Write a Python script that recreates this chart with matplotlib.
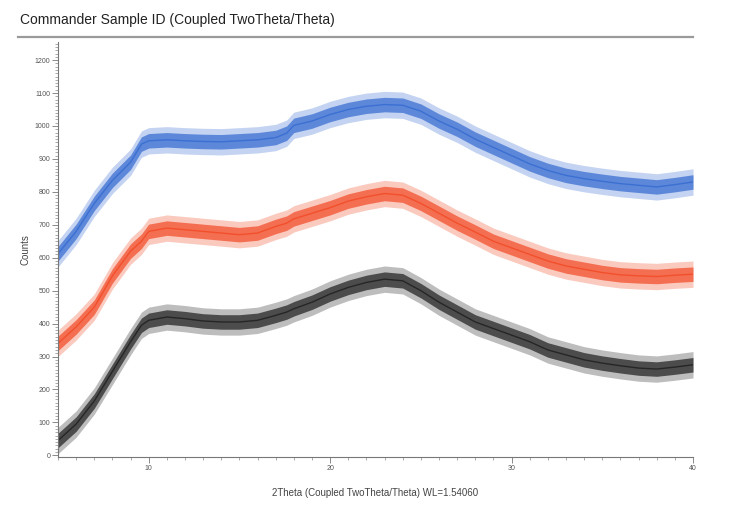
import numpy as np
import matplotlib.pyplot as plt
from matplotlib.lines import Line2D
from matplotlib.ticker import MultipleLocator

two_theta = [5, 6, 7, 8, 9, 9.6, 10, 11, 12, 13, 14, 15, 16, 17, 17.6, 18, 19, 20,
             21, 22, 23, 24, 25, 26, 27, 28, 29, 30, 31, 32, 33, 34, 35, 36, 37,
             38, 39, 40]

blue_counts = [612, 680, 765, 835, 890, 945, 955, 958, 955, 953, 952, 955, 958, 965,
               978, 1002, 1015, 1035, 1050, 1060, 1065, 1063, 1045, 1015, 990, 960,
               935, 910, 885, 865, 850, 840, 832, 825, 820, 815, 822, 830]
red_counts = [340, 390, 450, 545, 620, 650, 680, 690, 685, 680, 675, 670, 675, 695,
              705, 718, 735, 752, 772, 785, 795, 790, 765, 735, 705, 678, 650, 630,
              610, 590, 575, 565, 555, 548, 545, 543, 547, 550]
black_counts = [45, 95, 165, 255, 345, 395, 410, 420, 415, 408, 405, 405, 410, 425,
                435, 445, 465, 490, 510, 525, 535, 530, 500, 465, 435, 405, 385, 365,
                345, 320, 305, 290, 280, 272, 265, 262, 268, 275]

# rough half-width of the noise band seen on each scan (outer spikes / dense core)
noise_outer = {'blue': 40, 'red': 40, 'black': 40}
noise_core = {'blue': 22, 'red': 22, 'black': 22}

colors = {'blue': '#3b6fd2', 'red': '#f2502c', 'black': '#262626'}

plt.rcParams['font.family'] = ['Liberation Sans', 'DejaVu Sans']

fig = plt.figure(figsize=(7.3, 5.12), dpi=100)
ax = fig.add_axes([58 / 730, 1 - 457 / 512, 635 / 730, 415 / 512])

x = np.array(two_theta)
for name, y in [('blue', blue_counts), ('red', red_counts), ('black', black_counts)]:
    y = np.array(y)
    wo = noise_outer[name]
    wc = noise_core[name]
    ax.fill_between(x, y - wo, y + wo, color=colors[name], alpha=0.3, lw=0)
    ax.fill_between(x, y - wc, y + wc, color=colors[name], alpha=0.75, lw=0)
    ax.plot(x, y, color=colors[name], lw=1.0)

ax.set_xlim(5, 40)
ax.set_ylim(-5, 1255)
ax.xaxis.set_major_locator(MultipleLocator(10))
ax.xaxis.set_minor_locator(MultipleLocator(1))
ax.yaxis.set_minor_locator(MultipleLocator(10))
ax.set_yticks(range(0, 1201, 100))

for side in ['top', 'right']:
    ax.spines[side].set_visible(False)
for side in ['left', 'bottom']:
    ax.spines[side].set_color('#777777')
    ax.spines[side].set_linewidth(0.8)

ax.tick_params(axis='both', which='major', labelsize=5, colors='#777777',
               labelcolor='#555555', length=4, width=0.6, pad=1.5)
ax.tick_params(axis='both', which='minor', colors='#888888', length=2, width=0.5)

ax.set_ylabel('Counts', fontsize=7, color='#444444', labelpad=3)
ax.set_xlabel('2Theta (Coupled TwoTheta/Theta) WL=1.54060', fontsize=7,
              color='#444444', labelpad=12)

fig.text(20 / 730, 1 - 20 / 512, 'Commander Sample ID (Coupled TwoTheta/Theta)',
         fontsize=10, color='#222222', va='center', ha='left')
fig.add_artist(Line2D([18 / 730, 693 / 730], [1 - 37 / 512, 1 - 37 / 512],
                      color='#9a9a9a', lw=1.6))

fig.savefig('out.png', dpi=100)
